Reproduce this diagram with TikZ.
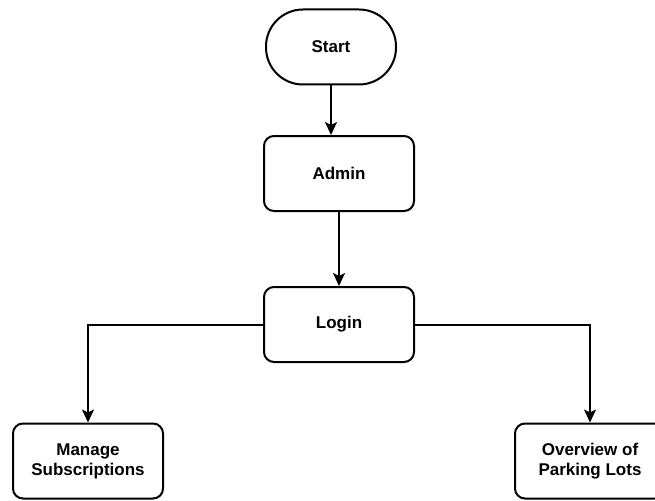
\documentclass[tikz,border=0pt]{standalone}
\usepackage{fontspec}
\setmainfont{Liberation Sans}
\usetikzlibrary{arrows.meta}
\tikzset{
  box/.style={draw, line width=2pt, rounded corners=10pt, minimum width=150pt, minimum height=75pt, inner sep=0pt, align=center, font=\fontsize{17}{20}\selectfont\bfseries},
  term/.style={draw, line width=2pt, rounded corners=37pt, minimum width=130pt, minimum height=75pt, inner sep=0pt, align=center, font=\fontsize{17}{20}\selectfont\bfseries},
  conn/.style={line width=2pt, -{Stealth[length=13pt, width=12pt, inset=3pt]}}
}
\begin{document}
\begin{tikzpicture}[x=1pt,y=-1pt]
\clip (0,0) rectangle (655,500);
\fill[white] (0,0) rectangle (655,500);
\node[term] (start) at (331,47) {Start};
\node[box] (admin) at (339,173.5) {Admin};
\node[box] (login) at (339,324.5) {Login};
\node[box] (manage) at (88,461) {Manage\\Subscriptions};
\node[box] (over) at (590,461) {Overview of\\Parking Lots};
\draw[conn] (start.south) -- (start.south |- admin.north);
\draw[conn] (admin) -- (login);
\draw[conn] (login.west) -| (manage.north);
\draw[conn] (login.east) -| (over.north);
\end{tikzpicture}
\end{document}
